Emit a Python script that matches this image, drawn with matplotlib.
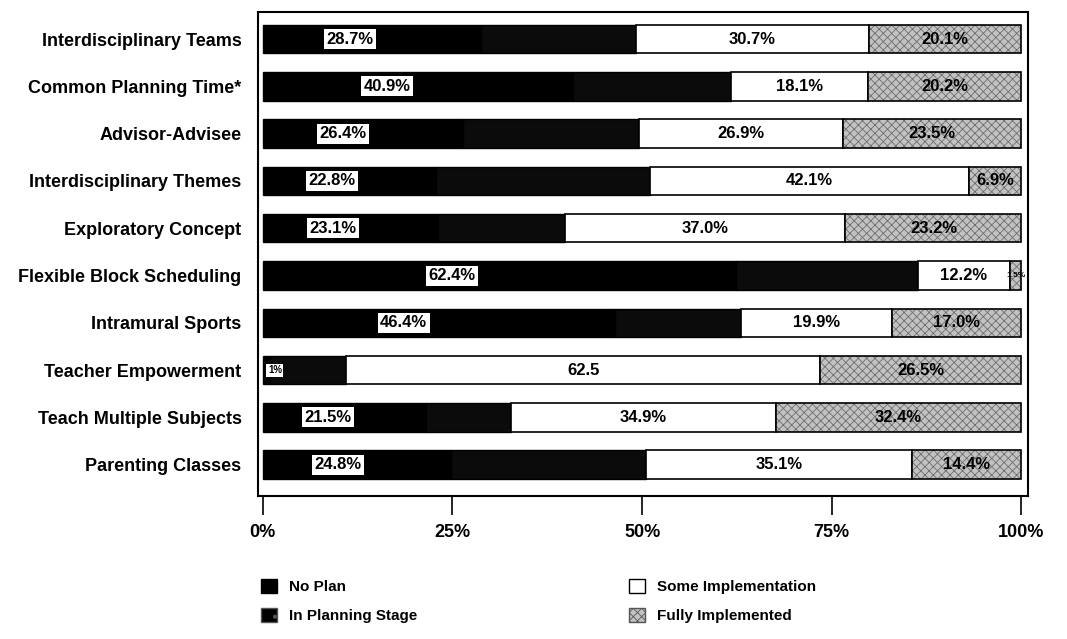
import numpy as np
import matplotlib.pyplot as plt
from matplotlib.patches import Patch

plt.rcParams['font.family'] = ['Liberation Sans Narrow', 'Liberation Sans', 'DejaVu Sans']
plt.rcParams['font.weight'] = 'bold'
plt.rcParams['hatch.linewidth'] = 0.6

practices = [
    "Interdisciplinary Teams", "Common Planning Time*", "Advisor-Advisee",
    "Interdisciplinary Themes", "Exploratory Concept", "Flexible Block Scheduling",
    "Intramural Sports", "Teacher Empowerment", "Teach Multiple Subjects",
    "Parenting Classes",
]
no_plan = [28.7, 40.9, 26.4, 22.8, 23.1, 62.4, 46.4, 1.0, 21.5, 24.8]
planning = [20.5, 20.8, 23.2, 28.2, 16.7, 23.9, 16.7, 10.0, 11.2, 25.7]
some_impl = [30.7, 18.1, 26.9, 42.1, 37.0, 12.2, 19.9, 62.5, 34.9, 35.1]
fully = [20.1, 20.2, 23.5, 6.9, 23.2, 1.5, 17.0, 26.5, 32.4, 14.4]

no_plan_labels = ["28.7%", "40.9%", "26.4%", "22.8%", "23.1%", "62.4%", "46.4%", "1%", "21.5%", "24.8%"]
some_labels = ["30.7%", "18.1%", "26.9%", "42.1%", "37.0%", "12.2%", "19.9%", "62.5", "34.9%", "35.1%"]
fully_labels = ["20.1%", "20.2%", "23.5%", "6.9%", "23.2%", "1.5%", "17.0%", "26.5%", "32.4%", "14.4%"]

y = np.arange(len(practices))
h = 0.6
no_plan = np.array(no_plan)
planning = np.array(planning)
some_impl = np.array(some_impl)
fully = np.array(fully)

fig = plt.figure(figsize=(10.67, 6.39), dpi=100)
ax = fig.add_axes([0.242, 0.224, 0.721, 0.757])

gray = '#c2c2c2'
ax.barh(y, no_plan, height=h, color='black', edgecolor='black', linewidth=1)
ax.barh(y, planning, left=no_plan, height=h, color='#0b0b0b', edgecolor='black', linewidth=1)
left2 = no_plan + planning
ax.barh(y, some_impl, left=left2, height=h, color='white', edgecolor='black', linewidth=1.2)
left3 = left2 + some_impl
# stippled fill first, then a plain black outline on top
ax.barh(y, fully, left=left3, height=h, color=gray, edgecolor='#6e6e6e',
        hatch='xxxx', linewidth=0)
ax.barh(y, fully, left=left3, height=h, fill=False, edgecolor='black', linewidth=1.2)

for i in range(len(practices)):
    small = no_plan[i] < 5
    ax.text(no_plan[i] * 0.4 if not small else no_plan[i] + 0.6, y[i], no_plan_labels[i],
            ha='center', va='center', fontsize=7 if small else 12, color='black',
            bbox=dict(boxstyle='square,pad=0.15', fc='white', ec='none'))
    ax.text(left2[i] + some_impl[i] / 2, y[i], some_labels[i],
            ha='center', va='center', fontsize=12, color='black')
    ax.text(left3[i] + fully[i] / 2, y[i], fully_labels[i],
            ha='center', va='center', fontsize=6 if fully[i] < 3 else 12, color='black')

ax.set_xlim(-0.6, 100.8)
ax.set_ylim(9.66, -0.57)
ax.set_yticks(y)
ax.set_yticklabels(practices, fontsize=13)
ax.tick_params(axis='y', length=0, pad=12)
ax.set_xticks([0, 25, 50, 75, 100])
ax.set_xticklabels(["0%", "25%", "50%", "75%", "100%"], fontsize=13)
ax.tick_params(axis='x', length=14, width=1.2, pad=6)
for s in ax.spines.values():
    s.set_linewidth(1.5)

handles = [
    Patch(facecolor='black', edgecolor='black', label='No Plan'),
    Patch(facecolor='black', edgecolor='#555555', hatch='.', label='In Planning Stage'),
    Patch(facecolor='white', edgecolor='black', label='Some Implementation'),
    Patch(facecolor=gray, edgecolor='#555555', hatch='xxxx', label='Fully Implemented'),
]
fig.legend(handles=handles, loc='upper left', bbox_to_anchor=(0.232, 0.115),
           ncol=2, frameon=False, fontsize=11, handlelength=1.0, handleheight=1.0,
           labelspacing=0.9, columnspacing=13.9, handletextpad=0.8)

fig.savefig('out.png', dpi=100)
